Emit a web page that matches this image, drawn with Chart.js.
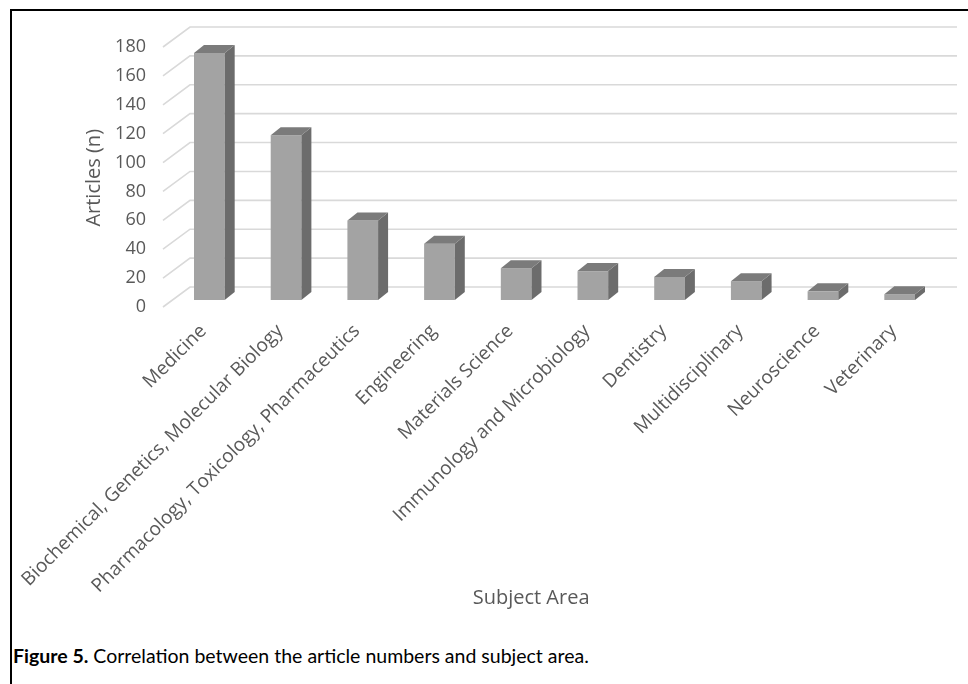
<!DOCTYPE html>
<html>
<head>
<meta charset="utf-8">
<script src="https://cdn.jsdelivr.net/npm/chart.js@4.4.0/dist/chart.umd.min.js"></script>
<style>
  html, body { margin: 0; padding: 0; background: #ffffff; }
  #wrap { position: relative; width: 968px; height: 684px; overflow: hidden; background: #fff; }
  #frame { position: absolute; left: 10px; top: 9px; width: 980px; height: 700px;
           border-top: 2px solid #000; border-left: 2px solid #000; }
  #chartBox { position: absolute; left: 0; top: 0; width: 968px; height: 630px; }
  #caption { position: absolute; left: 13px; top: 644px; font-family: Lato, sans-serif;
             font-size: 19.5px; color: #000; white-space: nowrap; }
  #caption b { font-weight: 700; }
</style>
</head>
<body>
<div id="wrap">
  <div id="frame"></div>
  <div id="chartBox"><canvas id="c"></canvas></div>
  <div id="caption"><b>Figure 5.</b> Correlation between the article numbers and subject area.</div>
</div>
<script>
const categories = [
  'Medicine',
  'Biochemical, Genetics, Molecular Biology',
  'Pharmacology, Toxicology, Pharmaceutics',
  'Engineering',
  'Materials Science',
  'Immunology and Microbiology',
  'Dentistry',
  'Multidisciplinary',
  'Neuroscience',
  'Veterinary'
];
const articles = [171, 114, 55, 39, 22, 20, 16, 13, 6, 4];
const yTickMin = 0;
const yTickMax = 180;
const yTickStep = 20;
const yAxisTitle = 'Articles (n)';
const xAxisTitle = 'Subject Area';

const DEPTH_X = 10, DEPTH_Y = -8;          // bar depth offset
const WALL_X = 19, WALL_Y = -13;           // back wall offset from bar plane
const FLOOR_X = -8, FLOOR_Y = 7;           // front floor edge offset

const bar3d = {
  id: 'bar3d',
  beforeDatasetsDraw(chart) {
    const ctx = chart.ctx;
    const area = chart.chartArea;
    const ys = chart.scales.y;
    ctx.save();
    ctx.strokeStyle = '#d9d9d9';
    ctx.lineWidth = 1.6;
    ys.ticks.forEach(t => {
      const py = ys.getPixelForValue(t.value);
      ctx.beginPath();
      ctx.moveTo(area.left + FLOOR_X, py + FLOOR_Y);
      ctx.lineTo(area.left + WALL_X, py + WALL_Y);
      ctx.lineTo(area.right + WALL_X, py + WALL_Y);
      ctx.stroke();
    });
    ctx.restore();
  },
  afterDatasetsDraw(chart) {
    const ctx = chart.ctx;
    const meta = chart.getDatasetMeta(0);
    ctx.save();
    meta.data.forEach(el => {
      const p = el.getProps(['x', 'y', 'base', 'width'], true);
      const l = p.x - p.width / 2, r = p.x + p.width / 2;
      ctx.fillStyle = '#6c6c6c';
      ctx.beginPath();
      ctx.moveTo(r, p.y);
      ctx.lineTo(r + DEPTH_X, p.y + DEPTH_Y);
      ctx.lineTo(r + DEPTH_X, p.base + DEPTH_Y);
      ctx.lineTo(r, p.base);
      ctx.closePath();
      ctx.fill();
      ctx.fillStyle = '#7b7b7b';
      ctx.beginPath();
      ctx.moveTo(l, p.y);
      ctx.lineTo(l + DEPTH_X, p.y + DEPTH_Y);
      ctx.lineTo(r + DEPTH_X, p.y + DEPTH_Y);
      ctx.lineTo(r, p.y);
      ctx.closePath();
      ctx.fill();
    });
    ctx.restore();
  }
};

const tickColor = '#595959';
new Chart(document.getElementById('c'), {
  type: 'bar',
  data: {
    labels: categories,
    datasets: [{
      data: articles,
      backgroundColor: '#a3a3a3',
      borderWidth: 0,
      categoryPercentage: 1.0,
      barPercentage: 0.4
    }]
  },
  options: {
    responsive: true,
    maintainAspectRatio: false,
    animation: false,
    events: [],
    layout: { padding: { top: 40, right: 30, left: 0, bottom: 0 } },
    plugins: { legend: { display: false }, tooltip: { enabled: false } },
    scales: {
      x: {
        grid: { display: false, drawTicks: false },
        border: { display: false },
        ticks: {
          autoSkip: false,
          maxRotation: 45,
          minRotation: 45,
          padding: 20,
          labelOffset: -6,
          color: tickColor,
          font: { family: 'Open Sans', size: 19 }
        },
        title: {
          display: true,
          text: xAxisTitle + '         ',
          color: tickColor,
          font: { family: 'Open Sans', size: 20 },
          padding: { top: 0, bottom: 20 }
        },
        afterFit(scale) { scale.height = 330; }
      },
      y: {
        min: yTickMin,
        max: yTickMax,
        grid: { display: false, drawTicks: false },
        border: { display: false },
        ticks: {
          stepSize: yTickStep,
          padding: 25,
          labelOffset: 7,
          color: tickColor,
          font: { family: 'Open Sans', size: 18 }
        },
        title: {
          display: true,
          text: yAxisTitle + '   ',
          color: tickColor,
          font: { family: 'Open Sans', size: 20 },
          padding: { top: 82, bottom: 0 }
        },
        afterFit(scale) { scale.width = 171; }
      }
    }
  },
  plugins: [bar3d]
});
</script>
</body>
</html>
